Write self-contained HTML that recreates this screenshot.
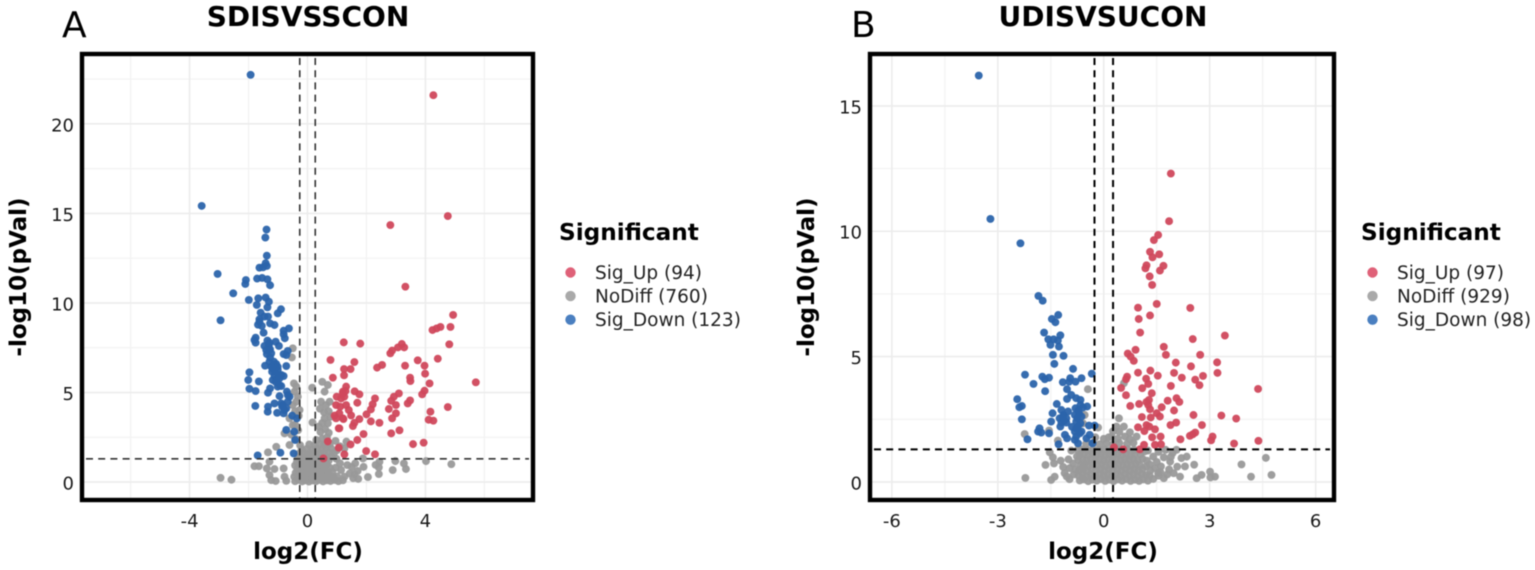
<!DOCTYPE html>
<html>
<head>
<meta charset="utf-8">
<style>
html,body{margin:0;padding:0;background:#fff;width:1535px;height:570px;overflow:hidden}
svg{display:block;filter:blur(0.45px)}
text{font-family:"DejaVu Sans","Liberation Sans",sans-serif;fill:#000}
.tick{font-size:18px;fill:#1a1a1a}
.axt{font-size:23px;font-weight:700}
.ttl{font-size:28px;font-weight:700}
.tag{font-size:36px}
.lgt{font-size:23.2px;font-weight:700}
.lgl{font-size:18.5px;fill:#222}
</style>
</head>
<body>
<svg id="chart" width="1535" height="570" viewBox="0 0 1535 570" xmlns="http://www.w3.org/2000/svg"></svg>
<script>
// ---------- Panel A data: [log2FC, -log10p] ----------
const aXTicks=[-4,0,4];
const aXMinor=[-6,-2,2,6];
const aYTicks=[0,5,10,15,20];
const aYMinor=[2.5,7.5,12.5,17.5,22.5];
const aLegend=["Sig_Up (94)","NoDiff (760)","Sig_Down (123)"];
const aUp=[[4.27,21.6],[4.76,14.85],[2.81,14.35],[3.32,10.91],[4.94,9.33],[4.85,8.66],[4.51,8.66],[4.38,8.58],[4.24,8.49],[4.81,7.69],[3.2,7.71],[3.28,7.52],[3.07,7.52],[2.87,7.34],[2.81,7.19],[1.79,7.73],[1.23,7.8],[4.42,6.89],[3.74,6.8],[3.97,6.5],[3.31,6.5],[2.53,6.54],[2.36,6.39],[1.59,6.7],[1.46,6.31],[1.24,6.31],[1.24,5.96],[3.99,6.05],[3.48,5.83],[3.49,5.64],[4.14,5.51],[5.71,5.57],[1.31,5.33],[1.29,5.08],[3.97,5.1],[3.89,4.9],[3.1,4.95],[2.93,4.77],[2.84,4.54],[2.29,4.67],[1.6,5.07],[1.76,4.9],[1.2,4.95],[1.14,4.67],[1.69,4.43],[2.21,4.34],[2.15,4.06],[3.0,4.3],[3.48,4.56],[3.4,4.39],[2.76,4.08],[3.0,3.84],[2.87,3.56],[4.76,4.19],[4.17,3.93],[4.11,3.48],[4.27,3.43],[2.0,3.78],[1.76,3.52],[2.15,3.39],[2.44,3.31],[1.59,3.31],[1.54,3.13],[1.31,4.3],[1.4,4.02],[1.48,3.72],[1.22,3.52],[1.08,3.84],[1.08,3.0],[1.9,2.68],[3.12,2.89],[2.84,2.72],[1.69,2.35],[1.46,2.1],[3.58,2.12],[3.94,2.2],[1.99,1.73],[2.29,1.55],[1.25,1.55],[0.78,6.82],[0.86,5.83],[1.2,5.05],[0.99,4.77],[1.25,4.77],[0.97,4.3],[1.11,4.21],[0.92,3.71],[0.97,3.56],[1.2,3.56],[1.06,3.0],[0.69,2.27],[1.06,1.92],[0.54,1.32]];
const aDiff=[[-0.5,7.47],[-0.53,6.96],[-0.46,5.51],[-0.38,5.33],[-0.44,5.05],[-0.33,4.77],[-0.38,4.49],[-0.5,4.3],[-0.27,4.02],[0.16,5.27],[0.5,5.6],[0.69,5.42],[0.58,5.05],[0.46,4.49],[0.63,4.3],[0.75,4.49],[0.17,3.33],[0.58,3.56],[0.69,3.28],[-0.61,3.56],[-0.5,3.18],[-0.78,2.72],[-0.61,2.07],[-1.06,1.97],[-1.34,1.66],[-1.29,1.14],[-1.8,0.89],[-1.65,0.89],[-1.38,0.76],[-1.12,0.73],[-0.81,0.76],[-1.29,0.39],[-2.95,0.24],[-2.58,0.13],[-1.23,0.11],[-1.08,0.06],[-0.78,0.3],[-0.72,0.07],[4.88,1.0],[4.02,1.17],[3.34,0.73],[3.27,1.04],[2.89,0.67],[2.98,1.17],[2.42,0.45],[2.42,0.82],[2.44,1.13],[2.31,0.96],[1.9,0.85],[1.88,1.32],[1.59,0.45],[1.43,0.48],[1.25,0.3],[1.14,0.67],[1.25,1.88],[1.32,2.26],[2.05,0.28],[1.72,0.18],[1.55,0.22],[1.7,0.62],
[-0.42,0.05],[-0.3,0.12],[-0.18,0.04],[-0.07,0.1],[0.05,0.03],[0.17,0.09],[0.29,0.05],[0.41,0.12],[0.53,0.04],[0.66,0.1],[0.78,0.06],[0.92,0.12],[1.05,0.05],[1.2,0.1],
[-0.45,0.3],[-0.33,0.28],[-0.21,0.33],[-0.1,0.27],[0.02,0.32],[0.14,0.28],[0.26,0.34],[0.38,0.27],[0.5,0.33],[0.62,0.29],[0.75,0.35],[0.88,0.28],[1.0,0.32],
[-0.4,0.52],[-0.28,0.49],[-0.16,0.55],[-0.04,0.5],[0.08,0.56],[0.2,0.48],[0.32,0.54],[0.44,0.5],[0.57,0.55],[0.7,0.52],[0.84,0.58],
[-0.35,0.72],[-0.23,0.75],[-0.11,0.7],[0.01,0.76],[0.13,0.71],[0.25,0.74],[0.37,0.7],[0.49,0.77],[0.61,0.72],[0.76,0.8],
[-0.42,0.93],[-0.3,0.96],[-0.18,0.91],[-0.06,0.97],[0.06,0.92],[0.18,0.98],[0.3,0.93],[0.42,0.97],[0.54,0.92],[0.66,0.99],
[-0.36,1.14],[-0.24,1.18],[-0.12,1.13],[0.0,1.19],[0.12,1.14],[0.24,1.17],[0.36,1.12],[0.48,1.18],[0.6,1.15],[0.72,1.2],
[-0.32,1.36],[-0.2,1.4],[-0.08,1.34],[0.04,1.41],[0.16,1.35],[0.28,1.39],[0.4,1.35],[0.52,1.42],[0.66,1.38],[0.82,1.45],
[-0.3,1.58],[-0.14,1.62],[0.0,1.56],[0.14,1.6],[0.28,1.55],[0.42,1.61],[0.56,1.58],[0.72,1.66],[0.9,1.62],
[-0.2,1.82],[-0.02,1.86],[0.16,1.8],[0.32,1.85],[0.48,1.82],[0.62,1.9],[0.8,1.88],[1.0,1.78],
[-0.25,2.06],[0.06,2.1],[0.24,2.05],[0.42,2.12],[0.58,2.08],[0.76,2.14],[-0.4,2.4],[0.3,2.35],[0.5,2.42],[0.66,2.5],[0.44,2.8],[0.6,2.95],[0.72,2.75],[0.38,3.1],[0.5,3.3],[0.56,3.9],[0.42,4.1],[0.72,3.95],[0.78,3.65],[-0.42,3.95],[-0.3,3.7],[-0.42,3.2],[-0.32,2.9],[-0.55,2.65],[0.95,2.3],[1.1,2.0],[0.98,1.3],[1.1,1.05],[0.95,0.8],[1.5,0.85],[1.62,1.05],[1.35,0.95]];
const aDown=[[-1.93,22.74],[-3.59,15.42],[-1.39,14.1],[-1.43,13.65],[-1.38,12.64],[-1.42,12.22],[-1.63,11.97],[-1.38,12.07],[-1.51,11.99],[-3.05,11.62],[-2.09,11.28],[-2.11,11.06],[-1.71,11.36],[-1.54,11.4],[-1.36,11.32],[-1.27,10.99],[-2.52,10.54],[-1.99,10.17],[-1.67,10.26],[-1.42,10.3],[-1.72,9.89],[-1.31,10.07],[-1.36,9.76],[-2.95,9.03],[-1.59,9.46],[-0.9,9.65],[-1.01,9.42],[-1.63,9.09],[-1.46,9.24],[-1.34,9.24],[-1.68,8.79],[-1.55,8.72],[-1.27,8.86],[-1.12,8.77],[-0.63,8.58],[-0.81,8.45],[-1.49,8.34],[-0.81,8.25],[-0.77,8.03],[-1.76,8.06],[-1.76,7.78],[-1.8,7.93],[-1.36,7.9],[-1.08,7.84],[-1.46,7.6],[-1.31,7.65],[-0.97,7.6],[-1.27,7.41],[-1.38,7.15],[-0.67,7.32],[-0.81,7.15],[-0.72,7.09],[-1.27,6.96],[-1.14,6.72],[-1.06,6.59],[-1.44,6.5],[-0.72,6.48],[-1.18,6.35],[-1.01,6.26],[-1.97,6.13],[-0.89,5.98],[-1.12,5.92],[-2.01,5.7],[-1.65,5.62],[-1.18,5.7],[-1.04,5.7],[-1.97,5.21],[-1.76,5.08],[-1.27,5.23],[-1.34,4.99],[-1.01,5.33],[-0.89,5.36],[-0.7,5.05],[-0.95,4.8],[-0.61,4.77],[-1.77,4.25],[-1.34,4.21],[-1.12,4.39],[-0.89,4.39],[-0.67,4.49],[-1.35,3.93],[-1.03,3.87],[-0.81,3.84],[-0.72,4.12],[-0.52,3.71],[-0.36,3.56],[-0.72,2.91],[-0.45,2.81],[-0.42,2.35],[-1.69,1.49],[-0.92,1.64],[-0.47,1.6],[-1.29,6.72],[-1.2,6.16],[-0.99,5.98],[-1.08,5.6],[-0.95,5.79],[-0.81,5.92],[-1.31,7.46],[-1.4,7.37],[-1.23,7.19],[-1.29,7.78],[-1.01,6.44],[-1.23,6.44],[-1.12,6.22],[-0.95,5.42],[-0.86,4.21],[-0.78,4.02],[-0.84,4.3],[-0.67,4.86],[-1.63,8.96]];

// ---------- Panel B data: [log2FC, -log10p] ----------
const bXTicks=[-6,-3,0,3,6];
const bXMinor=[-4.5,-1.5,1.5,4.5];
const bYTicks=[0,5,10,15];
const bYMinor=[2.5,7.5,12.5];
const bLegend=["Sig_Up (97)","NoDiff (929)","Sig_Down (98)"];
const bUp=[[1.9,12.3],[1.85,10.4],[1.54,9.85],[1.42,9.65],[1.31,9.18],[1.57,9.08],[1.38,8.96],[1.69,8.62],[1.21,8.64],[1.18,8.52],[1.59,8.43],[1.3,8.2],[1.37,7.86],[1.5,7.1],[0.97,6.95],[2.45,6.94],[0.99,6.5],[1.31,6.64],[1.03,5.96],[3.43,5.84],[2.52,5.7],[1.7,5.39],[0.9,5.27],[0.68,5.12],[0.76,5.0],[0.85,4.83],[1.76,5.07],[2.73,5.07],[2.04,4.76],[2.47,4.61],[3.21,4.77],[3.22,4.35],[0.97,4.36],[1.32,4.44],[1.99,4.35],[1.53,4.24],[2.21,4.16],[2.81,4.23],[2.59,4.08],[2.71,3.86],[0.66,4.2],[0.63,4.1],[1.2,4.12],[1.26,3.91],[1.9,3.83],[1.09,3.74],[0.49,3.75],[4.37,3.71],[1.36,3.54],[0.63,3.46],[1.81,3.24],[2.06,3.34],[2.14,3.19],[1.28,3.27],[1.21,3.19],[1.0,3.11],[1.26,3.07],[0.75,3.03],[1.64,2.98],[1.31,2.9],[1.99,2.85],[1.5,2.74],[1.59,2.61],[1.08,2.59],[1.33,2.57],[2.54,2.67],[3.33,2.65],[3.75,2.53],[2.05,2.37],[1.89,2.27],[2.78,2.27],[1.21,2.27],[0.97,2.18],[1.29,2.21],[1.45,2.1],[1.15,2.03],[2.59,1.97],[2.52,1.9],[2.44,1.84],[1.61,1.81],[1.37,1.78],[2.17,1.7],[3.08,1.81],[3.04,1.66],[4.38,1.64],[3.69,1.53],[1.62,1.5],[1.14,1.48],[1.45,1.48],[0.29,1.38],[0.55,1.3],[1.02,1.3]];
const bDiff=[[3.9,0.7],[4.59,0.96],[4.17,0.21],[4.75,0.28],[2.56,0.69],[3.01,0.41],[3.15,0.21],[2.77,0.28],[2.63,0.15],[2.35,1.01],[2.06,1.28],[2.08,0.61],[2.16,0.21],[1.88,0.81],[1.4,1.01],[1.54,0.35],[0.43,2.54],[0.36,2.21],[0.57,2.21],[0.22,1.81],[0.6,1.81],[0.93,1.81],[0.57,3.94],[-0.45,3.7],[-2.24,1.91],[-1.55,2.05],[-0.16,2.17],[0.14,1.78],[-0.54,2.67],[-0.59,2.34],[-1.3,1.65],[-2.22,0.16],[-1.49,0.08],[-1.39,0.21],[-0.97,0.11],[-1.65,0.68],[-1.41,0.74],[-1.44,0.98],[-1.53,1.18],[-1.11,0.35],[-0.97,0.55],[-0.87,0.74],[-0.59,0.61],[-0.59,0.15],[1.4,0.12],[1.55,0.25],[1.7,0.15],[1.8,0.3],[2.3,0.62],[2.2,0.95],[1.95,1.15],[1.7,0.98],[1.62,0.62],[1.3,0.7],[1.25,1.25],[3.02,0.18],
[-0.68,0.06],[-0.56,0.1],[-0.44,0.03],[-0.32,0.09],[-0.2,0.05],[-0.08,0.11],[0.04,0.04],[0.16,0.09],[0.28,0.03],[0.4,0.1],[0.52,0.05],[0.64,0.11],[0.76,0.04],[0.88,0.09],[1.0,0.04],[1.12,0.1],[1.25,0.05],
[-0.72,0.26],[-0.6,0.3],[-0.48,0.24],[-0.36,0.29],[-0.24,0.25],[-0.12,0.31],[0.0,0.26],[0.12,0.3],[0.24,0.24],[0.36,0.29],[0.48,0.25],[0.6,0.31],[0.72,0.26],[0.84,0.3],[0.96,0.25],[1.08,0.31],[1.2,0.27],
[-0.7,0.47],[-0.58,0.5],[-0.46,0.45],[-0.34,0.51],[-0.22,0.46],[-0.1,0.5],[0.02,0.45],[0.14,0.51],[0.26,0.46],[0.38,0.5],[0.5,0.45],[0.62,0.51],[0.74,0.47],[0.86,0.5],[0.98,0.46],[1.1,0.52],
[-0.66,0.67],[-0.54,0.71],[-0.42,0.66],[-0.3,0.7],[-0.18,0.65],[-0.06,0.71],[0.06,0.66],[0.18,0.7],[0.3,0.65],[0.42,0.71],[0.54,0.67],[0.66,0.7],[0.78,0.66],[0.9,0.72],[1.02,0.67],
[-0.72,0.88],[-0.6,0.91],[-0.48,0.86],[-0.36,0.92],[-0.24,0.87],[-0.12,0.91],[0.0,0.86],[0.12,0.92],[0.24,0.87],[0.36,0.91],[0.48,0.86],[0.6,0.92],[0.72,0.88],[0.84,0.91],[0.96,0.87],[1.1,0.92],
[-0.68,1.08],[-0.56,1.12],[-0.44,1.07],[-0.32,1.11],[-0.2,1.06],[-0.08,1.12],[0.04,1.07],[0.16,1.11],[0.28,1.06],[0.4,1.12],[0.52,1.08],[0.64,1.11],[0.76,1.07],[0.88,1.13],[1.04,1.1],
[-0.92,1.25],[-0.74,1.28],[-0.6,1.3],[-0.46,1.27],[-0.3,1.31],[-0.14,1.27],[0.02,1.3],[0.18,1.26],[0.34,1.31],[0.5,1.27],[0.68,1.31],[0.86,1.28],[1.16,1.22],
[-0.5,1.52],[-0.3,1.55],[-0.12,1.5],[0.08,1.54],[0.26,1.5],[0.44,1.55],[0.66,1.52],[0.84,1.56],[-0.24,1.78],[0.0,1.72],[0.4,1.72],[0.74,1.7],[0.44,2.0],[0.26,2.02],[0.74,1.98],
[-0.85,0.3],[-0.8,0.5],[-0.76,1.02],[-1.0,0.9],[-1.15,0.6],[-1.22,0.85],[-1.05,0.22],[1.3,0.25],[1.32,0.45],[1.45,0.55],[1.22,0.85],[1.5,0.8],[1.6,0.4],[1.85,0.5],[1.98,0.35],[1.2,0.62],[1.55,1.2],[1.75,1.28],[1.9,1.0]];
const bDown=[[-3.54,16.21],[-3.21,10.49],[-2.36,9.52],[-1.85,7.42],[-1.73,7.23],[-1.29,6.66],[-1.47,6.5],[-1.37,6.37],[-1.69,5.96],[-1.23,5.85],[-1.57,5.69],[-1.42,5.69],[-1.3,5.64],[-1.51,5.47],[-1.27,5.4],[-1.44,5.07],[-1.14,5.03],[-1.4,4.71],[-0.87,4.51],[-2.23,4.28],[-0.34,4.32],[-1.74,4.2],[-1.67,4.1],[-1.55,4.16],[-1.99,3.91],[-1.16,3.98],[-0.98,4.0],[-0.95,4.14],[-0.8,4.0],[-0.63,4.14],[-1.04,3.7],[-1.66,3.62],[-0.92,3.47],[-1.04,3.31],[-0.78,3.34],[-0.66,3.27],[-2.45,3.3],[-2.32,3.03],[-2.39,2.98],[-1.33,3.11],[-0.66,3.07],[-0.8,2.94],[-0.59,2.97],[-0.47,3.01],[-1.2,2.87],[-1.01,2.81],[-1.45,2.74],[-1.14,2.67],[-1.25,2.54],[-1.06,2.54],[-0.82,2.67],[-0.7,2.74],[-2.32,2.5],[-1.49,2.41],[-1.2,2.37],[-1.06,2.37],[-1.23,2.21],[-0.78,2.41],[-0.66,2.34],[-0.42,2.25],[-0.26,2.25],[-1.82,2.14],[-1.86,2.01],[-1.77,1.97],[-1.55,1.94],[-0.82,2.01],[-0.63,2.01],[-1.1,1.88],[-1.04,1.74],[-2.16,1.7],[-0.78,1.81],[-0.73,1.54],[-0.49,1.74],[-0.4,1.88],[-1.28,1.5],[-0.32,1.54],[-0.82,1.68],[-0.73,2.21],[-0.63,2.61],[-0.78,2.14],[-0.68,1.94],[-1.12,2.45],[-1.16,2.6],[-0.9,2.2],[-0.72,2.85],[-0.75,2.55]];

const vCut=0.263;
const hCut=1.3;

// ---------- Drawing ----------
const NS="http://www.w3.org/2000/svg";
const root=document.getElementById("chart");
function mk(tag,attrs,parent,txt){
  const el=document.createElementNS(NS,tag);
  for(const k in attrs){el.setAttribute(k,attrs[k]);}
  if(txt!==undefined){el.textContent=txt;}
  parent.appendChild(el);
  return el;
}
function drawPanel(p){
  const g=mk("g",{},root);
  
  
  const sx=v=>p.left+(v-p.xMin)/(p.xMax-p.xMin)*(p.right-p.left);
  const sy=v=>p.bottom-(v-p.yMin)/(p.yMax-p.yMin)*(p.bottom-p.top);
  const bg=mk("rect",{x:p.left,y:p.top,width:p.right-p.left,height:p.bottom-p.top,fill:"#fff"},g);
  
  

  p.xMinor.forEach(v=>{
    const l=mk("line",{x1:sx(v),x2:sx(v),y1:p.top,y2:p.bottom,stroke:"#f2f2f2","stroke-width":1.2},g);
    
    
  });
  p.yMinor.forEach(v=>{
    const l=mk("line",{x1:p.left,x2:p.right,y1:sy(v),y2:sy(v),stroke:"#f2f2f2","stroke-width":1.2},g);
    
    
  });
  p.xTicks.forEach(v=>{
    const l=mk("line",{x1:sx(v),x2:sx(v),y1:p.top,y2:p.bottom,stroke:"#ececec","stroke-width":1.6},g);
    
    
  });
  p.yTicks.forEach(v=>{
    const l=mk("line",{x1:p.left,x2:p.right,y1:sy(v),y2:sy(v),stroke:"#ececec","stroke-width":1.6},g);
    
    
  });

  p.series.forEach(s=>{
    s.data.forEach(d=>{
      const c=mk("circle",{cx:sx(d[0]),cy:sy(d[1]),r:3.95,fill:s.color,"fill-opacity":0.95},g);
      
      
    });
  });

  [-vCut,vCut].forEach(v=>{
    const l=mk("line",{x1:sx(v),x2:sx(v),y1:p.top+4,y2:p.bottom,stroke:p.dashColor,"stroke-width":p.dashWidth,"stroke-dasharray":"7 5.2"},g);
    
    
  });
  const h=mk("line",{x1:p.left+4,x2:p.right-4,y1:sy(hCut),y2:sy(hCut),stroke:p.dashColor,"stroke-width":p.dashWidth,"stroke-dasharray":"7 5.2"},g);
  
  

  const fr=mk("rect",{x:p.left,y:p.top,width:p.right-p.left,height:p.bottom-p.top,fill:"none",stroke:"#000","stroke-width":4.4},g);
  
  

  p.xTicks.forEach(v=>{
    const t=mk("text",{x:sx(v),y:p.bottom+27,"text-anchor":"middle",class:"tick"},g,String(v));
    
    
  });
  p.yTicks.forEach(v=>{
    const t=mk("text",{x:p.left-8,y:sy(v)+7.5,"text-anchor":"end",class:"tick"},g,String(v));
    
    
  });

  const xt=mk("text",{x:p.titleX,y:559,"text-anchor":"middle",class:"axt"},g,"log2(FC)");
  
  
  const yt=mk("text",{transform:"translate("+p.yTitleX+",277) rotate(-90)","text-anchor":"middle",class:"axt"},g,"-log10(pVal)");
  
  
  const tt=mk("text",{x:p.titleX,y:26,"text-anchor":"middle",class:"ttl"},g,p.title);
  
  
  const tg=mk("text",{x:p.tagX,y:37,class:"tag"},g,p.tag);
  
  

  const lt=mk("text",{x:p.legendX,y:240,class:"lgt"},g,"Significant");
  
  
  p.legend.forEach((label,i)=>{
    const yy=272.5+i*23.6;
    const c=mk("circle",{cx:p.legendX+11.5,cy:yy,r:5.2,fill:p.legendColors[i]},g);
    
    
    const t=mk("text",{x:p.legendX+36,y:yy+6.5,class:"lgl"},g,label);
    
    
  });
}
const RED="#d0485c",GRAY="#999999",BLUE="#2b64ab";
const LEG=["#df6178","#a9a9a9","#4a7fc0"];
drawPanel({id:"panel-a",title:"SDISVSSCON",tag:"A",tagX:62,titleX:308,yTitleX:26,legendX:559,
  left:82,right:533,top:54,bottom:500,xMin:-7.65,xMax:7.65,yMin:-1,yMax:23.9,
  xTicks:aXTicks,xMinor:aXMinor,yTicks:aYTicks,yMinor:aYMinor,legend:aLegend,legendColors:LEG,
  dashColor:"#333",dashWidth:1.6,
  series:[{key:"nodiff",data:aDiff,color:GRAY},{key:"sig-up",data:aUp,color:RED},{key:"sig-down",data:aDown,color:BLUE}]});
drawPanel({id:"panel-b",title:"UDISVSUCON",tag:"B",tagX:851,titleX:1103,yTitleX:814,legendX:1361,
  left:870,right:1334,top:54,bottom:500,xMin:-6.62,xMax:6.52,yMin:-0.72,yMax:17.07,
  xTicks:bXTicks,xMinor:bXMinor,yTicks:bYTicks,yMinor:bYMinor,legend:bLegend,legendColors:LEG,
  dashColor:"#000",dashWidth:2,
  series:[{key:"nodiff",data:bDiff,color:GRAY},{key:"sig-up",data:bUp,color:RED},{key:"sig-down",data:bDown,color:BLUE}]});
</script>
</body>
</html>
